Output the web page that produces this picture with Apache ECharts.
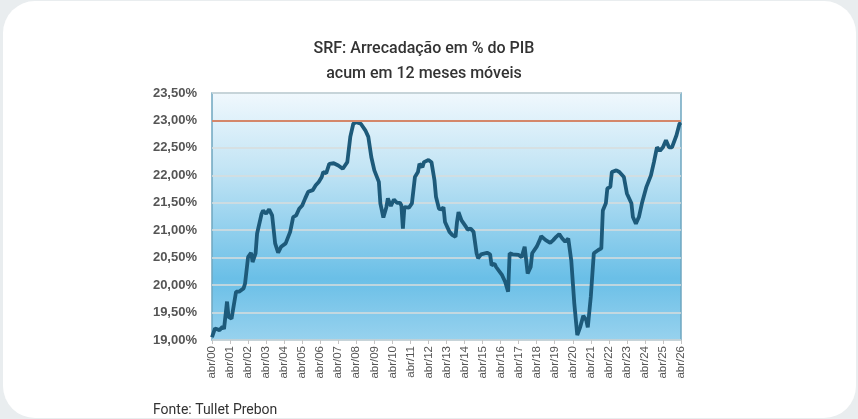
<!DOCTYPE html>
<html>
<head>
<meta charset="utf-8">
<script src="https://cdn.jsdelivr.net/npm/echarts@6/dist/echarts.min.js"></script>
<style>
  html, body { margin: 0; padding: 0; background: #e9edef; }
  #chart { width: 858px; height: 419px; }
</style>
</head>
<body>
<div id="chart"></div>
<script>
// meses desde abr/2000 (0 = abr/00, 312 = abr/26)
const months = [
  0, 2, 5, 7, 8, 10, 11, 13, 16, 18, 21, 22, 24, 26, 27, 29, 30, 33, 34, 36,
  38, 40, 42, 44, 46, 49, 50, 52, 54, 56, 58, 60, 62, 64, 67, 69, 71, 73, 74, 76,
  78, 81, 84, 87, 90, 92, 94, 96, 99, 102, 104, 106, 108, 111, 112, 114, 116, 117, 119, 121,
  123, 125, 126, 127, 128, 131, 133, 135, 137, 138, 140, 141, 144, 146, 148, 149, 151, 153, 154, 155,
  158, 160, 162, 163, 164, 166, 169, 170, 172, 174, 176, 177, 179, 183, 185, 186, 188, 189, 193, 195,
  197, 198, 200, 204, 206, 208, 210, 212, 213, 216, 218, 219, 222, 225, 227, 229, 231, 233, 235, 237,
  239, 241, 243, 245, 247, 249, 250, 252, 254, 257, 259, 260, 262, 263, 265, 266, 269, 271, 274, 276,
  279, 280, 282, 284, 286, 289, 292, 294, 296, 298, 300, 302, 304, 306, 309, 311, 312
]
// arrecadação em % do PIB
const values = [
  19.05, 19.21, 19.18, 19.24, 19.20, 19.70, 19.42, 19.39, 19.88, 19.88, 19.94, 20.03, 20.51, 20.59, 20.42, 20.58, 20.94, 21.30, 21.36, 21.30,
  21.38, 21.27, 20.76, 20.59, 20.70, 20.76, 20.73, 20.97, 21.24, 21.27, 21.39, 21.45, 21.58, 21.70, 21.73, 21.82, 21.88, 21.97, 22.06, 22.04,
  22.21, 22.22, 22.18, 22.12, 22.24, 22.70, 22.94, 22.97, 22.94, 22.82, 22.70, 22.33, 22.09, 21.88, 21.49, 21.23, 21.42, 21.58, 21.44, 21.56,
  21.50, 21.50, 21.45, 21.03, 21.42, 21.41, 21.49, 21.97, 22.06, 22.21, 22.15, 22.24, 22.28, 22.24, 21.91, 21.61, 21.39, 21.38, 21.42, 21.15,
  20.97, 20.91, 20.88, 21.15, 21.33, 21.18, 21.06, 21.01, 21.03, 20.97, 20.58, 20.49, 20.56, 20.59, 20.56, 20.36, 20.39, 20.33, 20.18, 20.06,
  19.88, 20.58, 20.56, 20.55, 20.51, 20.70, 20.21, 20.33, 20.58, 20.70, 20.82, 20.89, 20.82, 20.77, 20.82, 20.88, 20.93, 20.85, 20.79, 20.85,
  20.45, 19.67, 19.09, 19.24, 19.44, 19.36, 19.23, 19.79, 20.58, 20.64, 20.67, 21.36, 21.49, 21.76, 21.79, 22.06, 22.09, 22.06, 21.97, 21.67,
  21.49, 21.24, 21.12, 21.24, 21.49, 21.79, 22.00, 22.24, 22.51, 22.45, 22.51, 22.64, 22.51, 22.51, 22.73, 22.94, 22.96
]
const xLabels = [
  'abr/00', 'abr/01', 'abr/02', 'abr/03', 'abr/04', 'abr/05', 'abr/06', 'abr/07', 'abr/08',
  'abr/09', 'abr/10', 'abr/11', 'abr/12', 'abr/13', 'abr/14', 'abr/15', 'abr/16', 'abr/17',
  'abr/18', 'abr/19', 'abr/20', 'abr/21', 'abr/22', 'abr/23', 'abr/24', 'abr/25', 'abr/26'
]
const refLevel = 23

const chart = echarts.init(document.getElementById('chart'))
const seriesData = months.map((m, i) => [m, values[i]])

chart.setOption({
  backgroundColor: '#e9edef',
  animation: false,
  title: {
    text: 'SRF: Arrecadação em % do PIB\nacum em 12 meses móveis',
    left: 419,
    top: 31,
    textAlign: 'center',
    textStyle: {
      fontFamily: 'Roboto',
      fontSize: 16,
      fontWeight: 500,
      color: '#333333',
      lineHeight: 25
    }
  },
  graphic: [
    {
      type: 'rect',
      z: -10,
      silent: true,
      shape: { x: 3, y: 1, width: 853, height: 417, r: 32 },
      style: { fill: '#ffffff' }
    },
    {
      type: 'text',
      left: 153,
      top: 403,
      silent: true,
      style: {
        text: 'Fonte: Tullet Prebon',
        fontFamily: 'Roboto',
        fontSize: 14,
        fill: '#333333'
      }
    }
  ],
  grid: {
    left: 212,
    top: 93,
    width: 469,
    height: 247,
    show: true,
    borderColor: '#6fa6c0',
    borderWidth: 1.5,
    backgroundColor: new echarts.graphic.LinearGradient(0, 0, 0, 1, [
      { offset: 0, color: '#f0f8fd' },
      { offset: 0.3, color: '#c4e5f5' },
      { offset: 0.75, color: '#6abfe7' },
      { offset: 1, color: '#98d2ee' }
    ])
  },
  xAxis: {
    type: 'value',
    min: 0,
    max: 312,
    interval: 12,
    axisLine: { show: false },
    axisTick: { show: true, length: 4, lineStyle: { color: '#c4c4c4' } },
    splitLine: { show: false },
    axisLabel: {
      rotate: 90,
      margin: 6,
      fontFamily: 'Liberation Sans',
      fontSize: 11.5,
      color: '#555555',
      formatter: v => xLabels[Math.round(v / 12)]
    }
  },
  yAxis: {
    type: 'value',
    min: 19,
    max: 23.5,
    interval: 0.5,
    axisLine: { show: false },
    axisTick: { show: false },
    axisLabel: {
      margin: 15,
      fontFamily: 'Liberation Sans',
      fontSize: 13,
      fontWeight: 'bold',
      color: '#555555',
      formatter: v => v.toFixed(2).replace('.', ',') + '%'
    },
    splitLine: {
      lineStyle: { color: '#d8dcdd', width: 1.5 }
    }
  },
  series: [
    {
      type: 'line',
      data: seriesData,
      showSymbol: false,
      lineStyle: { color: '#1d5a7a', width: 3.8 },
      markLine: {
        silent: true,
        symbol: 'none',
        label: { show: false },
        lineStyle: { color: '#d4876a', width: 2, type: 'solid' },
        data: [{ yAxis: refLevel }]
      },
      z: 3
    }
  ]
})
</script>
</body>
</html>
